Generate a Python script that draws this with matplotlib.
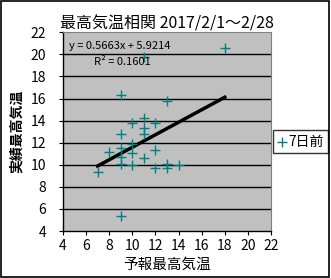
import matplotlib.pyplot as plt
from matplotlib.patches import Rectangle
import numpy as np

plt.rcParams['font.family'] = ['Noto Sans CJK JP', 'DejaVu Sans']

# 予報最高気温 (7日前) と 実績最高気温
forecast = [18, 11, 9, 13, 11, 10, 12, 11, 11, 9, 8, 9, 10, 10, 9, 9, 10, 11, 12, 12, 13, 13, 14, 7, 9]
actual = [20.6, 19.8, 16.3, 15.8, 14.2, 13.8, 13.8, 13.3, 12.8, 12.8, 11.2, 11.5, 11.9, 11.1,
          10.7, 10.1, 10.0, 10.6, 11.3, 9.7, 10.1, 9.7, 10.0, 9.3, 5.4]
# 近似直線 (係数)
trend = [0.5663, 5.9214]
r2 = 0.1601
x_ticks = [4, 6, 8, 10, 12, 14, 16, 18, 20, 22]
y_ticks = [4, 6, 8, 10, 12, 14, 16, 18, 20, 22]

fig = plt.figure(figsize=(3.31, 2.78), dpi=100)
fig.patch.set_facecolor('white')
fig.patches.append(Rectangle((0.004, 0.005), 0.99, 0.99, transform=fig.transFigure,
                             fill=False, edgecolor='black', linewidth=1.2))

ax = fig.add_axes([0.190, 0.169, 0.629, 0.715])
ax.set_facecolor('#c0c0c0')
ax.set_xlim(4, 22)
ax.set_ylim(4, 22)
ax.set_xticks(x_ticks)
ax.set_yticks(y_ticks)
for y in y_ticks[1:-1]:
    ax.axhline(y, color='black', linewidth=1, zorder=1)

# 散布図
ax.scatter(forecast, actual, marker='+', s=45, color='#008080', linewidths=1, zorder=3, label='7日前')

# 近似直線
xs = np.array([min(forecast), max(forecast)])
ax.plot(xs, trend[0] * xs + trend[1], color='black', linewidth=2.5, zorder=2)

ax.text(0.03, 0.93, 'y = %.4fx + %.4f' % (trend[0], trend[1]), transform=ax.transAxes,
        fontsize=8, va='center', ha='left', zorder=4)
ax.text(0.15, 0.85, 'R² = %.4f' % r2, transform=ax.transAxes,
        fontsize=8, va='center', ha='left', zorder=4)

for s in ['top', 'right']:
    ax.spines[s].set_color('#808080')
    ax.spines[s].set_linestyle((0, (1, 1)))
    ax.spines[s].set_linewidth(0.8)
for s in ['left', 'bottom']:
    ax.spines[s].set_color('black')
    ax.spines[s].set_linewidth(1)

ax.tick_params(axis='both', labelsize=10, length=3, width=0.8, direction='out')
ax.tick_params(axis='x', pad=3)
ax.tick_params(axis='y', pad=9)

ax.set_title('最高気温相関 2017/2/1～2/28', fontsize=11.5, pad=3)
ax.set_xlabel('予報最高気温', fontsize=10.5, labelpad=3)
ax.set_ylabel('実績最高気温', fontsize=10, fontweight='bold', labelpad=5)

leg = ax.legend(loc='center left', bbox_to_anchor=(1.01, 0.45), fontsize=10, frameon=True,
                fancybox=False, edgecolor='black', handlelength=0.6, handletextpad=0.2,
                borderpad=0.3, borderaxespad=0)
leg.get_frame().set_linewidth(1)

fig.savefig('out.png', dpi=100)
